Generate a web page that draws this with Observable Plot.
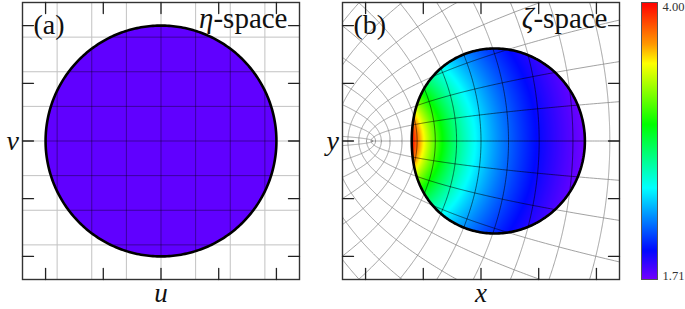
<!DOCTYPE html>
<html><head><meta charset="utf-8">
<script src="https://cdn.jsdelivr.net/npm/d3@7"></script>
<script src="https://cdn.jsdelivr.net/npm/@observablehq/plot@0.6"></script>
<style>
body{margin:0;background:#fff;}
#wrap{position:relative;width:685px;height:309px;overflow:hidden;}
#wrap > div{position:absolute;top:0;}
</style></head><body>
<div id="wrap"><div id="pa" style="left:0"></div><div id="pb" style="left:320px"></div><div id="pc" style="left:630px"></div></div>
<script>
// ---- data ----
const panelLabels = ["(a)", "(b)"];
const spaceLetters = ["η", "ζ"];
const spaceWord = "-space";
const axisLabelsA = ["u", "v"];
const axisLabelsB = ["x", "y"];
const etaDomain = [-1.2, 1.2];
const etaTicks = [-1, -0.5, 0, 0.5, 1];
const etaGrid = [-0.9, -0.6, -0.3, 0, 0.3, 0.6, 0.9];
const gridStep = 0.3;
const shift = 2.5;                 // zeta = (eta + shift)^2
const zetaXDomain = [-1.75, 14.25];
const zetaYDomain = [-8, 8];
const zetaXTicks = [-0.417, 2.917, 6.25, 9.583, 12.917];
const zetaYTicks = [-6.667, -3.333, 0, 3.333, 6.667];
const colorDomain = [1.71, 4.00];
const colorStops = [0, 0.105, 0.33, 0.56, 0.78, 0.85, 1];
const colorRange = ["#7400ff", "#0008ff", "#00ffff", "#00ff00", "#ffff00", "#ff9800", "#ff0000"];
const etaFill = "#6000ff";

// ---- layout ----
const W = 320, H = 309, mL = 22, mR = 21, mT = 2, mB = 30;
const FONT = "Liberation Serif, Times New Roman, serif";
const tickLen = 11;
const tickShape = {draw(ctx, l) { ctx.moveTo(0, 0); ctx.lineTo(0, -l); }};
const colorScale = {
  type: "linear",
  domain: colorStops.map(t => colorDomain[0] + t * (colorDomain[1] - colorDomain[0])),
  range: colorRange, interpolate: "rgb", clamp: true
};

function ticks(xd, yd, xt, yt) {
  const st = {length: tickLen, anchor: "start", shape: tickShape, stroke: "#222", strokeWidth: 1.3};
  return [
    Plot.vector(xt, {x: d => d, y: yd[0], rotate: 0, ...st}),
    Plot.vector(xt, {x: d => d, y: yd[1], rotate: 180, ...st}),
    Plot.vector(yt, {y: d => d, x: xd[0], rotate: 90, ...st}),
    Plot.vector(yt, {y: d => d, x: xd[1], rotate: -90, ...st})
  ];
}
function labels(i, ax) {
  return [
    Plot.text([panelLabels[i]], {frameAnchor: "top-left", dx: 11, dy: 23, textAnchor: "start", lineAnchor: "middle", fontFamily: FONT, fontSize: 28, fill: "#111"}),
    Plot.text([spaceLetters[i] + spaceWord], {frameAnchor: "top-right", dx: -12, dy: 16, textAnchor: "end", lineAnchor: "middle", fontFamily: FONT, fontSize: 29, fill: "#111"}),
    Plot.text([ax[0]], {frameAnchor: "bottom", dy: 14, lineAnchor: "middle", fontFamily: FONT, fontStyle: "italic", fontSize: 27, fill: "#111"}),
    Plot.text([ax[1]], {frameAnchor: "left", dx: -16, lineAnchor: "middle", fontFamily: FONT, fontStyle: "italic", fontSize: 28, fill: "#111"})
  ];
}
function italicGreek(svg) {
  d3.select(svg).selectAll("text").each(function() {
    const t = this.textContent;
    if (t.endsWith(spaceWord) && t.length === spaceWord.length + 1) {
      const s = d3.select(this); s.text("");
      s.append("tspan").attr("font-style", "italic").text(t[0]);
      s.append("tspan").text(spaceWord);
    }
  });
}

// ---- panel (a) ----
const circleA = d3.range(0, 361).map(i => ({u: Math.cos(i * Math.PI / 180), v: Math.sin(i * Math.PI / 180)}));
const plotA = Plot.plot({
  width: W, height: H, marginLeft: mL, marginRight: mR, marginTop: mT, marginBottom: mB,
  x: {domain: etaDomain, axis: null}, y: {domain: etaDomain, axis: null},
  marks: [
    Plot.ruleX(etaGrid, {stroke: "#c2c2c2", strokeWidth: 1}),
    Plot.ruleY(etaGrid, {stroke: "#c2c2c2", strokeWidth: 1}),
    Plot.line(circleA, {x: "u", y: "v", fill: etaFill, stroke: "none"}),
    Plot.ruleX(etaGrid, {x: d => d, y1: d => -Math.sqrt(1 - d * d), y2: d => Math.sqrt(1 - d * d), stroke: "#000", strokeOpacity: 0.38, strokeWidth: 1}),
    Plot.ruleY(etaGrid, {y: d => d, x1: d => -Math.sqrt(1 - d * d), x2: d => Math.sqrt(1 - d * d), stroke: "#000", strokeOpacity: 0.38, strokeWidth: 1}),
    Plot.line(circleA, {x: "u", y: "v", stroke: "#000", strokeWidth: 2.6}),
    Plot.frame({stroke: "#333", strokeWidth: 1.4}),
    ...ticks(etaDomain, etaDomain, etaTicks, etaTicks),
    ...labels(0, axisLabelsA)
  ]
});
italicGreek(plotA);
document.getElementById("pa").appendChild(plotA);

// ---- panel (b) ----
const cube = (T, n) => d3.range(n + 1).map(i => { const s = -1 + 2 * i / n; return T * s * s * s; });
const light = [], dark = [];
// images of u = const lines
d3.range(-8, 6).forEach(k => {
  const c = shift + k * gridStep;
  const T = Math.min(zetaYDomain[1] / (2 * c), Math.sqrt(c * c - zetaXDomain[0])) * 1.15;
  cube(T, 700).forEach(t => light.push({id: "u" + k, x: c * c - t * t, y: 2 * c * t}));
});
// images of v = const lines
d3.range(1, 9).forEach(k => {
  const d = k * gridStep;
  const S = Math.min(zetaYDomain[1] / (2 * d), Math.sqrt(zetaXDomain[1] + d * d)) * 1.15;
  cube(S, 700).forEach(s => light.push({id: "v" + k, x: s * s - d * d, y: 2 * s * d}));
});
d3.range(0, 201).forEach(i => { const s = 4 * i / 200; light.push({id: "v0", x: s * s, y: 0}); });
// grid lines inside the unit circle
etaGrid.forEach((g, j) => {
  const h = Math.sqrt(1 - g * g);
  d3.range(0, 121).forEach(i => {
    const t = -h + 2 * h * i / 120;
    const c = shift + g;
    dark.push({id: "du" + j, x: c * c - t * t, y: 2 * c * t});
    const s = shift + t;
    dark.push({id: "dv" + j, x: s * s - g * g, y: 2 * s * g});
  });
});
const circleB = d3.range(0, 361).map(i => {
  const t = i * Math.PI / 180, a = shift + Math.cos(t), b = Math.sin(t);
  return {x: a * a - b * b, y: 2 * a * b};
});
function field(x, y) {
  const r = Math.hypot(x, y), th = Math.atan2(y, x), sr = Math.sqrt(r);
  const wr = sr * Math.cos(th / 2), wi = sr * Math.sin(th / 2);
  if (Math.hypot(wr - shift, wi) > 1.004) return NaN;
  return colorDomain[1] * (shift - 1) / sr;
}
const plotB = Plot.plot({
  width: W, height: H, marginLeft: mL, marginRight: mR, marginTop: mT, marginBottom: mB,
  x: {domain: zetaXDomain, axis: null}, y: {domain: zetaYDomain, axis: null},
  color: colorScale,
  marks: [
    Plot.line(light, {x: "x", y: "y", z: "id", stroke: "#8a8a8a", strokeWidth: 0.8, clip: true}),
    Plot.raster({x1: zetaXDomain[0], x2: zetaXDomain[1], y1: zetaYDomain[0], y2: zetaYDomain[1], width: 277, height: 277, fill: field, imageRendering: "auto"}),
    Plot.line(dark, {x: "x", y: "y", z: "id", stroke: "#000", strokeOpacity: 0.6, strokeWidth: 0.9}),
    Plot.line(circleB, {x: "x", y: "y", stroke: "#000", strokeWidth: 2.6}),
    Plot.frame({stroke: "#333", strokeWidth: 1.4}),
    ...ticks(zetaXDomain, zetaYDomain, zetaXTicks, zetaYTicks),
    ...labels(1, axisLabelsB)
  ]
});
italicGreek(plotB);
document.getElementById("pb").appendChild(plotB);

// ---- colour bar ----
const plotC = Plot.plot({
  width: 55, height: H, marginLeft: 11, marginRight: 28, marginTop: mT, marginBottom: mB,
  x: {domain: [0, 1], axis: null}, y: {domain: colorDomain, axis: null},
  color: colorScale,
  marks: [
    Plot.raster({x1: 0, x2: 1, y1: colorDomain[0], y2: colorDomain[1], width: 4, height: 277, fill: (x, y) => y, imageRendering: "auto"}),
    Plot.frame({stroke: "#555", strokeWidth: 1}),
    Plot.text([colorDomain[1]], {x: 1, y: d => d, text: d => d.toFixed(2), dx: 5, textAnchor: "start", lineAnchor: "top", fontFamily: FONT, fontSize: 12.5, fill: "#333"}),
    Plot.text([colorDomain[0]], {x: 1, y: d => d, text: d => d.toFixed(2), dx: 5, textAnchor: "start", lineAnchor: "bottom", fontFamily: FONT, fontSize: 12.5, fill: "#333"})
  ]
});
plotC.style.overflow = "visible";
document.getElementById("pc").appendChild(plotC);
</script></body></html>
